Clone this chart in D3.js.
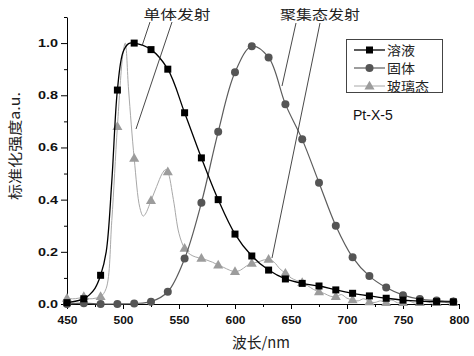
<!DOCTYPE html>
<html><head><meta charset="utf-8">
<script src="https://cdn.jsdelivr.net/npm/d3@7/dist/d3.min.js"></script>
<style>
html,body{margin:0;padding:0;background:#fff;}
svg{display:block;}
</style></head>
<body>
<svg id="c" width="474" height="356"></svg>
<script>
// ---- data ----
const seriesNames = ["溶液", "固体", "玻璃态"];
const solWl  = [450,465,470,475,480,485,490,495,500,505,510,525,540,555,570,585,600,615,630,645,660,675,690,705,720,735,750,765,780,795];
const solVal = [0.005,0.02,0.035,0.06,0.11,0.2,0.47,0.82,0.965,0.998,1.0,0.975,0.90,0.733,0.56,0.40,0.268,0.184,0.13,0.096,0.079,0.069,0.054,0.041,0.031,0.022,0.015,0.011,0.009,0.008];
const solidWl  = [450,465,480,495,510,525,540,555,570,585,600,615,630,645,660,675,690,705,720,735,750,765,780,795];
const solidVal = [0.0,0.003,0.0,0.0,0.002,0.009,0.047,0.174,0.388,0.66,0.888,0.988,0.945,0.766,0.631,0.465,0.30,0.179,0.107,0.063,0.034,0.019,0.013,0.01];
const glassWl  = [450,455,460,465,470,475,480,485,490,495,500,502,505,510,515,518,520,525,530,535,538,540,545,550,555,560,565,570,575,580,585,590,595,600,605,610,615,620,625,630,635,640,645,650,655,660,665,670,675,680,685,690,695,700,705,710,715,720,725,730,735,740,745,750,755,760,765,770,775,780,785,790,795];
const glassVal = [0.022,0.02,0.022,0.028,0.02,0.022,0.028,0.06,0.32,0.68,0.96,1.0,0.82,0.558,0.37,0.337,0.345,0.396,0.45,0.50,0.515,0.507,0.40,0.27,0.213,0.19,0.18,0.175,0.168,0.16,0.149,0.14,0.13,0.124,0.13,0.145,0.156,0.16,0.168,0.171,0.16,0.135,0.118,0.10,0.09,0.082,0.07,0.056,0.047,0.04,0.03,0.028,0.036,0.022,0.016,0.012,0.02,0.008,0.006,0.012,0.005,0.015,0.005,0.005,0.012,0.004,0.005,0.01,0.004,0.005,0.012,0.004,0.006];
const xTicks = [450,500,550,600,650,700,750,800];
const xMinor = [475,525,575,625,675,725,775];
const yTicks = [0.0,0.2,0.4,0.6,0.8,1.0];
const yMinor = [0.1,0.3,0.5,0.7,0.9,1.1];
const xLabel = "波长/nm";
const yLabel = "标准化强度a.u.";
const annoLeft = "单体发射";
const annoRight = "聚集态发射";
const sampleName = "Pt-X-5";

// ---- chart ----
const svg = d3.select("#c");
const x = d3.scaleLinear().domain([450,800]).range([67,459]);
const y = d3.scaleLinear().domain([0,1.1]).range([304,17]);
const cjk = "'Noto Sans CJK SC','Noto Sans',sans-serif";

function zip(wl, v){ return wl.map((w,i)=>({w, v:v[i]})); }
const series = [
  {name:seriesNames[2], data:zip(glassWl,glassVal), color:"#a8a8a8", mfill:"#9c9c9c", shape:"tri", lw:1},
  {name:seriesNames[1], data:zip(solidWl,solidVal), color:"#5c5c5c", mfill:"#555", shape:"circ", lw:1.2},
  {name:seriesNames[0], data:zip(solWl,solVal), color:"#000", mfill:"#000", shape:"sq", lw:1.3}
];

// axes
const gx = svg.append("g").attr("transform","translate(0,304)")
  .call(d3.axisBottom(x).tickValues(xTicks).tickSize(5).tickSizeOuter(0).tickPadding(7).tickFormat(d3.format("d")));
svg.append("g").attr("transform","translate(0,304)")
  .call(d3.axisBottom(x).tickValues(xMinor).tickSize(3).tickSizeOuter(0).tickFormat(""))
  .select(".domain").remove();
const gy = svg.append("g").attr("transform","translate(67,0)")
  .call(d3.axisLeft(y).tickValues(yTicks).tickSize(6).tickSizeOuter(0).tickPadding(3).tickFormat(d3.format(".1f")));
svg.append("g").attr("transform","translate(67,0)")
  .call(d3.axisLeft(y).tickValues(yMinor).tickSize(3).tickSizeOuter(0).tickFormat(""))
  .select(".domain").remove();
svg.selectAll(".tick line, .domain").attr("stroke","#000").attr("stroke-width",1);
svg.selectAll(".tick text").attr("font-family","'Liberation Sans',Arial,sans-serif")
  .attr("font-size",11).attr("font-weight","bold").attr("fill","#111")
  .attr("textLength",20).attr("lengthAdjust","spacingAndGlyphs");

// lines
const line = d3.line().x(d=>x(d.w)).y(d=>y(d.v)).curve(d3.curveCatmullRom.alpha(0.5));
function marker(g, shape, cx, cy, fill){
  if(shape==="sq") g.append("rect").attr("x",cx-3.5).attr("y",cy-3.5).attr("width",7).attr("height",7).attr("fill",fill);
  else if(shape==="circ") g.append("circle").attr("cx",cx).attr("cy",cy).attr("r",4).attr("fill",fill);
  else g.append("path").attr("d",d3.symbol(d3.symbolTriangle,44)()).attr("transform",`translate(${cx},${cy+0.5})`).attr("fill",fill);
}
series.forEach(s=>{
  svg.append("path").datum(s.data).attr("d",line).attr("fill","none").attr("stroke",s.color).attr("stroke-width",s.lw);
  const g = svg.append("g");
  s.data.filter(d=>(d.w-450)%15===0).forEach(d=>marker(g,s.shape,x(d.w),y(d.v),s.mfill));
});

// annotations
const ann = svg.append("g").attr("stroke","#333").attr("stroke-width",0.9);
[[150,22,142,46],[172,22,136,129],[296,23,282,86],[320,23,272,258]].forEach(l=>{
  ann.append("line").attr("x1",l[0]).attr("y1",l[1]).attr("x2",l[2]).attr("y2",l[3]);
});
svg.append("text").attr("x",177).attr("y",19).attr("text-anchor","middle").attr("font-family",cjk)
  .attr("font-size",13).attr("fill","#222").attr("textLength",67).attr("lengthAdjust","spacingAndGlyphs").text(annoLeft);
svg.append("text").attr("x",320).attr("y",19).attr("text-anchor","middle").attr("font-family",cjk)
  .attr("font-size",13).attr("fill","#222").attr("textLength",80).attr("lengthAdjust","spacingAndGlyphs").text(annoRight);

// legend
const lg = svg.append("g");
lg.append("rect").attr("x",346.5).attr("y",39.5).attr("width",96).attr("height",53).attr("fill","#fff").attr("stroke","#444").attr("stroke-width",1);
const legendOrder = [series[2],series[1],series[0]];
const widths = [28,28,42];
legendOrder.forEach((s,i)=>{
  const yy = 50 + i*18;
  lg.append("line").attr("x1",354).attr("x2",385).attr("y1",yy).attr("y2",yy).attr("stroke",s.color).attr("stroke-width",s.lw);
  marker(lg,s.shape,369.5,yy,s.mfill);
  lg.append("text").attr("x",387).attr("y",yy+5).attr("font-family",cjk).attr("font-size",13).attr("fill","#222")
    .attr("textLength",widths[i]).attr("lengthAdjust","spacingAndGlyphs").text(s.name);
});
svg.append("text").attr("x",353).attr("y",120).attr("font-family","'Liberation Sans',Arial,sans-serif")
  .attr("font-size",14).attr("fill","#111").text(sampleName);

// axis titles
svg.append("text").attr("x",261).attr("y",348).attr("text-anchor","middle").attr("font-family",cjk)
  .attr("font-size",15).attr("fill","#222").attr("textLength",58).attr("lengthAdjust","spacingAndGlyphs").text(xLabel);
svg.append("text").attr("transform","translate(20,146) rotate(-90)").attr("text-anchor","middle").attr("font-family",cjk)
  .attr("font-size",14).attr("fill","#222").attr("textLength",108).attr("lengthAdjust","spacingAndGlyphs").text(yLabel);
</script>
</body></html>
